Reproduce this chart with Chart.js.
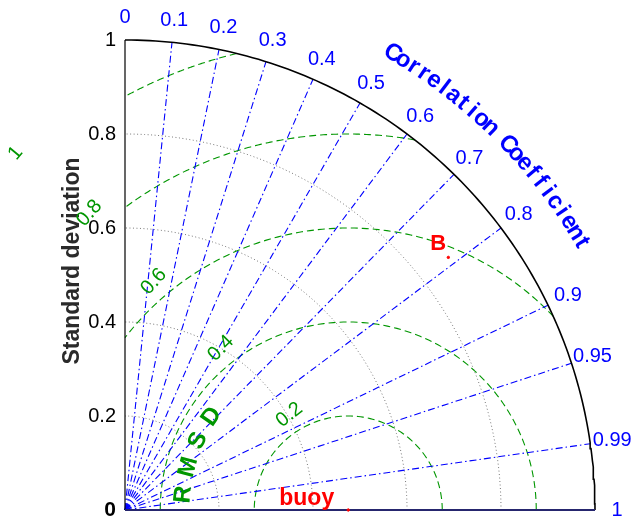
<!DOCTYPE html>
<html>
<head>
<meta charset="utf-8">
<script src="https://cdn.jsdelivr.net/npm/chart.js@4.4.0/dist/chart.umd.min.js"></script>
<style>
  html, body { margin: 0; padding: 0; background: #fff; }
  #wrap { width: 633px; height: 522px; }
</style>
</head>
<body>
<div id="wrap"><canvas id="taylor" width="633" height="522"></canvas></div>
<script>
// Taylor diagram data
const corrTicks = [0.1, 0.2, 0.3, 0.4, 0.5, 0.6, 0.7, 0.8, 0.9, 0.95, 0.99];
const corrLabelValues = [0, 0.1, 0.2, 0.3, 0.4, 0.5, 0.6, 0.7, 0.8, 0.9, 0.95, 0.99, 1];
const corrLabels = ['0', '0.1', '0.2', '0.3', '0.4', '0.5', '0.6', '0.7', '0.8', '0.9', '0.95', '0.99', '1'];
const stdTicks = [0.2, 0.4, 0.6, 0.8];
const stdLabelValues = [0, 0.2, 0.4, 0.6, 0.8, 1];
const stdLabels = ['0', '0.2', '0.4', '0.6', '0.8', '1'];
const rmsdTicks = [0.2, 0.4, 0.6, 0.8, 1];
const rmsdLabels = ['0.2', '0.4', '0.6', '0.8', '1'];
const refName = 'buoy';
const refStd = 0.475;
const modelNames = ['B'];
const modelStd = [0.873];
const modelCorr = [0.788];

const BLUE = '#0000ff';
const GREEN = 'rgb(0,150,0)';
const RED = '#ff0000';
const FONT = '"Liberation Sans", Arial, sans-serif';

function polar(r, c) {
    return { x: r * c, y: r * Math.sqrt(Math.max(0, 1 - c * c)) };
}

// arc round the origin, angles in radians
function originArc(r, a0, a1) {
    var pts = [];
    for (let i = 0; i <= 120; i++) {
        let a = a0 + (a1 - a0) * i / 120;
        pts.push({ x: r * Math.cos(a), y: r * Math.sin(a) });
    }
    return pts;
}

// rmsd circle round the reference point, kept inside the quarter disc
function rmsdArc(r) {
    var a = refStd;
    var cmax = Math.min(1, (1 - a * a - r * r) / (2 * a * r));
    var cmin = Math.max(-1, -a / r);
    var p0 = Math.acos(cmax), p1 = Math.acos(cmin);
    var pts = [];
    for (let i = 0; i <= 120; i++) {
        let p = p0 + (p1 - p0) * i / 120;
        pts.push({ x: a + r * Math.cos(p), y: r * Math.sin(p) });
    }
    return pts;
}

function lineSet(data, color, width, dash) {
    return {
        type: 'line', data: data, borderColor: color, borderWidth: width,
        borderDash: dash, pointRadius: 0, fill: false, tension: 0, clip: false
    };
}

var datasets = [];

// model points + reference point
datasets.push({
    type: 'scatter',
    data: modelStd.map((s, i) => polar(s, modelCorr[i])).concat([{ x: refStd, y: 0 }]),
    backgroundColor: RED, borderColor: RED, pointRadius: 1.2, clip: false
});

// axes and outer arc
datasets.push(lineSet([{ x: 0, y: 0 }, { x: 1, y: 0 }], '#26266e', 2, []));
datasets.push(lineSet([{ x: 0, y: 0 }, { x: 0, y: 1 }], '#000', 1.2, []));
datasets.push(lineSet(originArc(1, 0, Math.PI / 2), '#000', 1.6, []));

// correlation rays
corrTicks.forEach(c => {
    datasets.push(lineSet([{ x: 0, y: 0 }, polar(1, c)], BLUE, 1.1, [7, 3, 1.5, 3]));
});

// rmsd circles
rmsdTicks.forEach(r => {
    datasets.push(lineSet(rmsdArc(r), GREEN, 1.1, [7, 4]));
});

// std circles
stdTicks.forEach(s => {
    datasets.push(lineSet(originArc(s, 0, Math.PI / 2), '#777', 1, [1, 2.5]));
});

const deg = Math.PI / 180;

const taylorText = {
    id: 'taylorText',
    afterDraw(chart) {
        const ctx = chart.ctx;
        const xs = chart.scales.x, ys = chart.scales.y;
        const px = (x, y) => [xs.getPixelForValue(x), ys.getPixelForValue(y)];
        ctx.save();

        // std tick labels
        ctx.fillStyle = '#000';
        ctx.textAlign = 'right';
        ctx.textBaseline = 'middle';
        stdLabelValues.forEach((v, i) => {
            let p = px(0, v);
            ctx.font = (v === 0 ? 'bold 21px ' : '20px ') + FONT;
            ctx.fillText(stdLabels[i], p[0] - 9, p[1]);
        });

        // y title
        ctx.save();
        ctx.translate(73, 261);
        ctx.rotate(-Math.PI / 2);
        ctx.textAlign = 'center';
        ctx.fillStyle = '#2a2a2a';
        ctx.font = 'bold 23px ' + FONT;
        ctx.fillText('Standard deviation', 0, 0);
        ctx.restore();

        // correlation labels
        ctx.fillStyle = BLUE;
        ctx.textAlign = 'center';
        ctx.font = '20px ' + FONT;
        corrLabelValues.forEach((c, i) => {
            let q = polar(1.047, c);
            let p = px(q.x, q.y);
            ctx.fillText(corrLabels[i], p[0], p[1]);
        });

        // curved title round the outer arc
        const title = 'Correlation Coefficient';
        ctx.font = 'bold 24px ' + FONT;
        for (let i = 0; i < title.length; i++) {
            let a = (59.6 - i * 1.33) * deg;
            let p = px(1.126 * Math.cos(a), 1.126 * Math.sin(a));
            ctx.save();
            ctx.translate(p[0], p[1]);
            ctx.rotate(Math.PI / 2 - a);
            ctx.fillText(title[i], 0, 0);
            ctx.restore();
        }

        // rmsd labels
        const rmsdAngles = [121.7, 128.2, 130.4, 131.1, 133.0];
        ctx.fillStyle = GREEN;
        ctx.font = '20px ' + FONT;
        rmsdTicks.forEach((r, i) => {
            let a = rmsdAngles[i] * deg;
            let rr = r + 0.038;
            let p = px(refStd + rr * Math.cos(a), rr * Math.sin(a));
            ctx.save();
            ctx.translate(p[0], p[1]);
            ctx.rotate(Math.PI / 2 - a - 7 * deg);
            ctx.fillText(rmsdLabels[i], 0, 0);
            ctx.restore();
        });

        // "R M S D" along a circle round the reference
        const rm = 'R M S D';
        ctx.font = 'bold 24px ' + FONT;
        for (let i = 0; i < rm.length; i++) {
            let a = (174.6 - i * 4.83) * deg;
            let p = px(refStd + 0.352 * Math.cos(a), 0.352 * Math.sin(a));
            ctx.save();
            ctx.translate(p[0], p[1]);
            ctx.rotate(Math.PI / 2 - a);
            ctx.fillText(rm[i], 0, 0);
            ctx.restore();
        }

        // point labels
        ctx.fillStyle = RED;
        ctx.textBaseline = 'alphabetic';
        ctx.textAlign = 'left';
        ctx.font = 'bold 22px ' + FONT;
        modelNames.forEach((n, i) => {
            let q = polar(modelStd[i], modelCorr[i]);
            let p = px(q.x, q.y);
            ctx.fillText(n, p[0] - 18, p[1] - 7);
        });
        ctx.font = 'bold 23px ' + FONT;
        let rp = px(refStd, 0);
        ctx.fillText(refName, rp[0] - 69, rp[1] - 5.5);

        ctx.restore();
    }
};

new Chart(document.getElementById('taylor'), {
    type: 'scatter',
    data: { datasets: datasets },
    options: {
        responsive: false,
        animation: false,
        devicePixelRatio: 1,
        layout: { padding: { left: 125, top: 40, right: 38, bottom: 12 } },
        scales: {
            x: { type: 'linear', min: 0, max: 1, display: false },
            y: { type: 'linear', min: 0, max: 1, display: false }
        },
        plugins: { legend: { display: false }, tooltip: { enabled: false } }
    },
    plugins: [taylorText]
});
</script>
</body>
</html>
